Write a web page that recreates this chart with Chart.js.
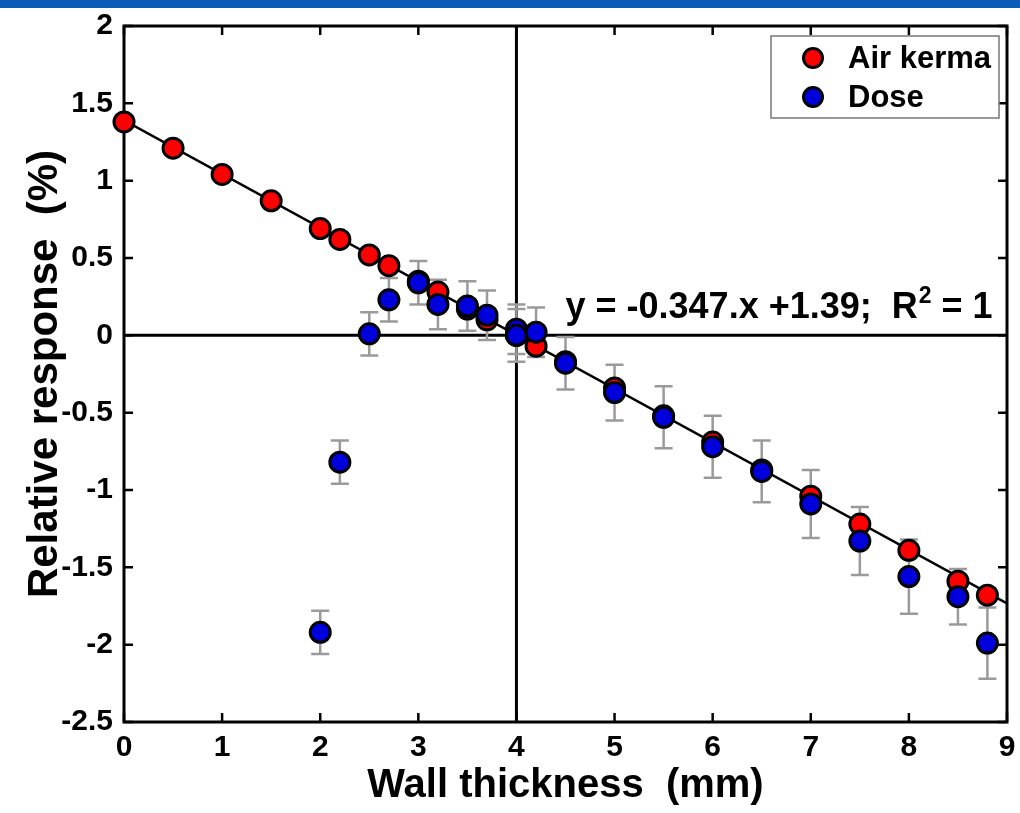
<!DOCTYPE html>
<html>
<head>
<meta charset="utf-8">
<script src="https://cdn.jsdelivr.net/npm/chart.js@4"></script>
<style>
  html, body { margin: 0; padding: 0; background: #fff; }
  #topBar { position: absolute; left: 0; top: 0; width: 1020px; height: 8px; background: #0a5cb8; }
  #wrap { position: absolute; left: 0; top: 0; width: 1020px; height: 813px; }
</style>
</head>
<body>
<div id="wrap"><canvas id="chart" width="1020" height="813"></canvas></div>
<div id="topBar"></div>
<script>
// Air kerma (red)
const kermaX = [0, 0.5, 1, 1.5, 2, 2.2, 2.5, 2.7, 3, 3.2, 3.5, 3.7, 4, 4.2, 4.5, 5, 5.5, 6, 6.5, 7, 7.5, 8, 8.5, 8.8];
const kermaY = [1.38, 1.21, 1.04, 0.87, 0.69, 0.62, 0.52, 0.45, 0.35, 0.28, 0.17, 0.10, 0.00, -0.07, -0.17, -0.34, -0.52, -0.69, -0.87, -1.04, -1.22, -1.39, -1.59, -1.68];

// Dose (blue) with error bars
const doseX = [2, 2.2, 2.5, 2.7, 3, 3.2, 3.5, 3.7, 4, 4, 4.2, 4.5, 5, 5.5, 6, 6.5, 7, 7.5, 8, 8.5, 8.8];
const doseY = [-1.92, -0.82, 0.01, 0.23, 0.34, 0.20, 0.19, 0.13, 0.04, 0.00, 0.02, -0.18, -0.37, -0.53, -0.72, -0.88, -1.09, -1.33, -1.56, -1.69, -1.99];
const doseErr = [0.14, 0.14, 0.14, 0.14, 0.14, 0.16, 0.16, 0.16, 0.16, 0.17, 0.16, 0.17, 0.18, 0.20, 0.20, 0.20, 0.22, 0.22, 0.24, 0.18, 0.23];

// linear fit y = -0.347x + 1.39, drawn across the axis
const fitX = [0, 9];
const fitY = [1.39, -1.733];

const xTicks = [0, 1, 2, 3, 4, 5, 6, 7, 8, 9];
const yTicks = [2, 1.5, 1, 0.5, 0, -0.5, -1, -1.5, -2, -2.5];

const fitText = 'y = -0.347.x +1.39;  R';
const legendLabels = ['Air kerma', 'Dose'];
const legendColors = ['#ff0000', '#0000dd'];

const FONT = "'Liberation Sans', Arial, sans-serif";

const toPoints = (xs, ys) => xs.map((x, i) => ({ x: x, y: ys[i] }));

const decorPlugin = {
  id: 'decor',
  beforeDatasetsDraw(chart) {
    const ctx = chart.ctx;
    const xs = chart.scales.x, ys = chart.scales.y;
    const a = chart.chartArea;
    ctx.save();
    // crosshair at x=4, y=0
    ctx.strokeStyle = '#000';
    ctx.lineWidth = 3;
    ctx.beginPath();
    ctx.moveTo(xs.getPixelForValue(4), a.top);
    ctx.lineTo(xs.getPixelForValue(4), a.bottom);
    ctx.moveTo(a.left, ys.getPixelForValue(0));
    ctx.lineTo(a.right, ys.getPixelForValue(0));
    ctx.stroke();

    // frame + inward ticks
    ctx.strokeRect(a.left, a.top, a.right - a.left, a.bottom - a.top);
    ctx.lineWidth = 2.5;
    ctx.beginPath();
    xTicks.forEach(v => {
      const px = xs.getPixelForValue(v);
      ctx.moveTo(px, a.bottom); ctx.lineTo(px, a.bottom - 9);
      ctx.moveTo(px, a.top); ctx.lineTo(px, a.top + 9);
    });
    yTicks.forEach(v => {
      const py = ys.getPixelForValue(v);
      ctx.moveTo(a.left, py); ctx.lineTo(a.left + 9, py);
      ctx.moveTo(a.right, py); ctx.lineTo(a.right - 9, py);
    });
    ctx.stroke();

    // error bars for dose
    ctx.strokeStyle = '#9a9a9a';
    ctx.lineWidth = 2.5;
    ctx.beginPath();
    doseX.forEach((x, i) => {
      const px = xs.getPixelForValue(x);
      const top = ys.getPixelForValue(doseY[i] + doseErr[i]);
      const bot = ys.getPixelForValue(doseY[i] - doseErr[i]);
      ctx.moveTo(px, top); ctx.lineTo(px, bot);
      ctx.moveTo(px - 9, top); ctx.lineTo(px + 9, top);
      ctx.moveTo(px - 9, bot); ctx.lineTo(px + 9, bot);
    });
    ctx.stroke();
    ctx.restore();
  },
  afterDraw(chart) {
    const ctx = chart.ctx;
    const xs = chart.scales.x, ys = chart.scales.y;
    ctx.save();
    // fit equation
    ctx.fillStyle = '#000';
    ctx.textBaseline = 'alphabetic';
    ctx.textAlign = 'left';
    ctx.font = 'bold 36px ' + FONT;
    let tx = xs.getPixelForValue(4.5);
    const ty = ys.getPixelForValue(0.11);
    ctx.fillText(fitText, tx, ty);
    tx += ctx.measureText(fitText).width;
    ctx.font = 'bold 23px ' + FONT;
    ctx.fillText('2', tx + 1, ty - 15);
    tx += ctx.measureText('2').width + 1;
    ctx.font = 'bold 36px ' + FONT;
    ctx.fillText(' = 1', tx, ty);

    // legend box
    ctx.fillStyle = '#fff';
    ctx.fillRect(771, 36, 228, 82);
    ctx.strokeStyle = '#777';
    ctx.lineWidth = 1.5;
    ctx.strokeRect(771, 36, 228, 82);
    const rows = [58, 97];
    ctx.font = 'bold 31px ' + FONT;
    ctx.textBaseline = 'middle';
    rows.forEach((ry, i) => {
      ctx.beginPath();
      ctx.arc(813, ry, 9.5, 0, Math.PI * 2);
      ctx.fillStyle = legendColors[i];
      ctx.fill();
      ctx.lineWidth = 3;
      ctx.strokeStyle = '#000';
      ctx.stroke();
      ctx.fillStyle = '#000';
      ctx.fillText(legendLabels[i], 848, ry + 1);
    });
    ctx.restore();
  }
};

new Chart(document.getElementById('chart'), {
  type: 'scatter',
  data: {
    datasets: [
      {
        label: 'Air kerma',
        data: toPoints(kermaX, kermaY),
        backgroundColor: legendColors[0],
        borderColor: '#000',
        borderWidth: 3,
        pointRadius: 10,
        clip: false,
        order: 2
      },
      {
        label: 'Dose',
        data: toPoints(doseX, doseY),
        backgroundColor: legendColors[1],
        borderColor: '#000',
        borderWidth: 3,
        pointRadius: 10,
        clip: false,
        order: 1
      },
      {
        label: 'fit',
        type: 'line',
        data: toPoints(fitX, fitY),
        borderColor: '#000',
        borderWidth: 2.5,
        pointRadius: 0,
        fill: false,
        order: 3
      }
    ]
  },
  options: {
    responsive: false,
    animation: false,
    events: [],
    layout: { padding: { top: 26, right: 10, left: 0, bottom: 0 } },
    plugins: { legend: { display: false }, tooltip: { enabled: false } },
    scales: {
      x: {
        type: 'linear',
        min: 0, max: 9,
        afterFit: s => { s.height = 91; s.paddingLeft = 0; s.paddingRight = 0; },
        afterBuildTicks: s => { s.ticks = xTicks.map(v => ({ value: v })); },
        grid: { display: false, drawTicks: false },
        border: { display: false },
        ticks: { color: '#000', padding: 8, font: { family: FONT, size: 30, weight: 'bold' }, maxRotation: 0 },
        title: { display: true, text: 'Wall thickness  (mm)', color: '#000', padding: { top: 0, bottom: 7 }, font: { family: FONT, size: 40, weight: 'bold', lineHeight: 1 } }
      },
      y: {
        type: 'linear',
        min: -2.5, max: 2,
        afterFit: s => { s.width = 124; s.paddingTop = 0; s.paddingBottom = 0; },
        afterBuildTicks: s => { s.ticks = yTicks.map(v => ({ value: v })); },
        grid: { display: false, drawTicks: false },
        border: { display: false },
        ticks: { color: '#000', padding: 11, font: { family: FONT, size: 30, weight: 'bold' }, callback: v => String(v) },
        title: { display: true, text: 'Relative response  (%)', color: '#000', padding: { top: 24, bottom: 0 }, font: { family: FONT, size: 42, weight: 'bold', lineHeight: 1 } }
      }
    }
  },
  plugins: [decorPlugin]
});
</script>
</body>
</html>
